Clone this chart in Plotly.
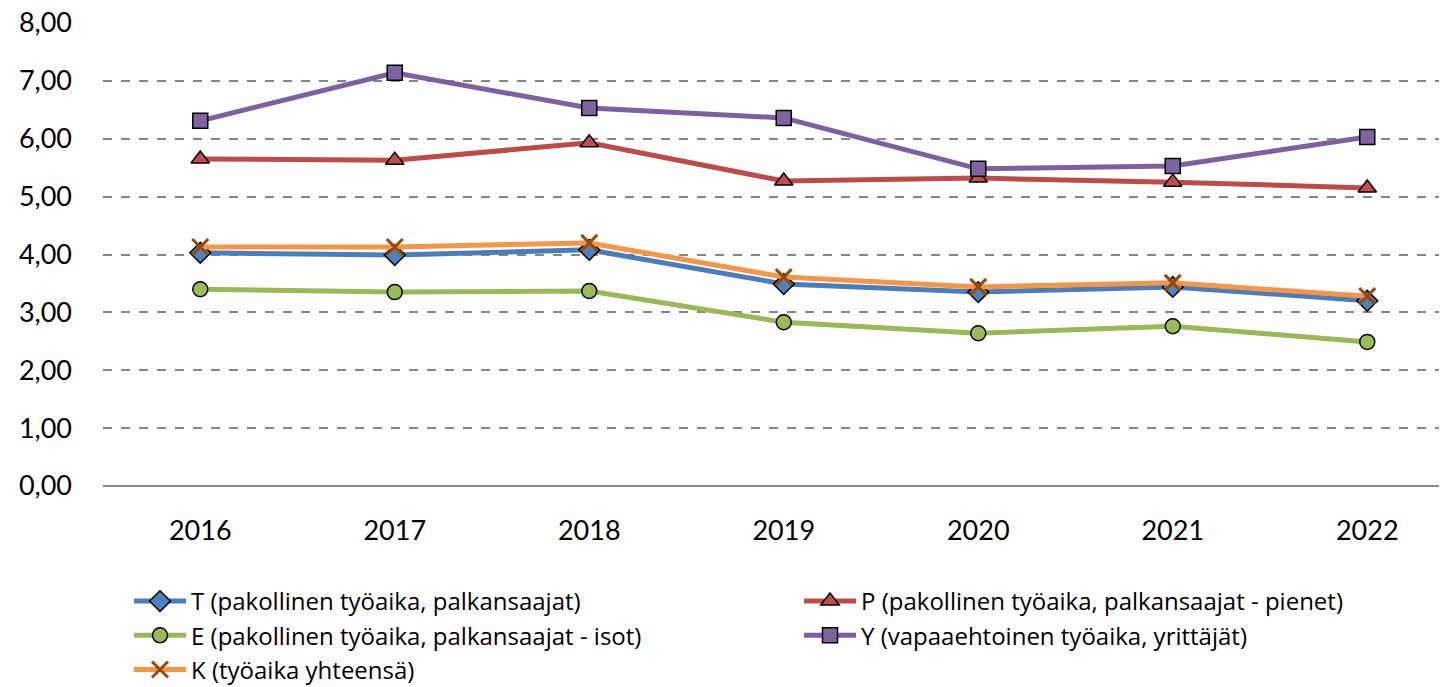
import plotly.graph_objects as go

years = ["2016", "2017", "2018", "2019", "2020", "2021", "2022"]
T = [4.03, 3.99, 4.08, 3.49, 3.35, 3.44, 3.20]
P = [5.65, 5.63, 5.93, 5.27, 5.32, 5.25, 5.15]
E = [3.40, 3.35, 3.37, 2.83, 2.64, 2.76, 2.49]
Y = [6.31, 7.14, 6.53, 6.36, 5.48, 5.53, 6.03]
K = [4.13, 4.13, 4.20, 3.61, 3.44, 3.51, 3.28]

names = [
    "T (pakollinen työaika, palkansaajat)",
    "P (pakollinen työaika, palkansaajat - pienet)",
    "E (pakollinen työaika, palkansaajat - isot)",
    "Y (vapaaehtoinen työaika, yrittäjät)",
    "K (työaika yhteensä)",
]

fig = go.Figure()
specs = [
    (T, "#4A7EBB", "diamond", "#4F81BD", "black", 16, 1.5, "legend"),
    (P, "#BE4B48", "triangle-up", "#C0504D", "black", 16, 1.5, "legend2"),
    (E, "#98B954", "circle", "#9BBB59", "black", 15, 1.5, "legend"),
    (Y, "#7D60A0", "square", "#8064A2", "black", 15, 1.5, "legend2"),
    (K, "#F69545", "x-thin", "#984807", "#984807", 16, 3, "legend"),
]
for (vals, lc, sym, mc, mlc, ms, mlw, lg), nm in zip(specs, names):
    fig.add_trace(go.Scatter(
        x=years, y=vals, name=nm, mode="lines+markers", legend=lg,
        line=dict(color=lc, width=5),
        marker=dict(symbol=sym, color=mc, size=ms, line=dict(color=mlc, width=mlw)),
    ))

# page body has an 8px margin, so the figure is shifted by 8px
W, H = 1439, 679
leg_common = dict(
    orientation="h", xref="container", yref="container",
    xanchor="left", yanchor="top",
    font=dict(size=24, family="Open Sans, Lato, sans-serif"),
    traceorder="normal", itemwidth=52, bgcolor="rgba(0,0,0,0)",
    entrywidth=640, entrywidthmode="pixels",
)
fig.update_layout(
    width=W, height=H,
    paper_bgcolor="white", plot_bgcolor="white",
    margin=dict(l=95, r=0, t=15, b=201),
    separators=", ",
    font=dict(family="Lato, Open Sans, sans-serif", size=27, color="black"),
    showlegend=True,
    legend=dict(x=121 / W, y=1 - 571 / H, **leg_common),
    legend2=dict(x=791 / W, y=1 - 571 / H, **leg_common),
)
fig.update_xaxes(
    type="category", range=[-0.5, 6.41], automargin=False,
    showgrid=False, showline=False, ticks="", ticklabelstandoff=26,
    tickfont=dict(size=27),
)
fig.update_yaxes(
    range=[0, 8], dtick=1, tickformat=".2f", automargin=False,
    showgrid=True, gridcolor="#868686", gridwidth=1.5, griddash="dash",
    zeroline=True, zerolinecolor="#868686", zerolinewidth=1.5,
    showline=False, ticks="", ticklabelstandoff=30, ticklabeloverflow="allow",
    tickfont=dict(size=27),
)

fig.write_html("out.html")
